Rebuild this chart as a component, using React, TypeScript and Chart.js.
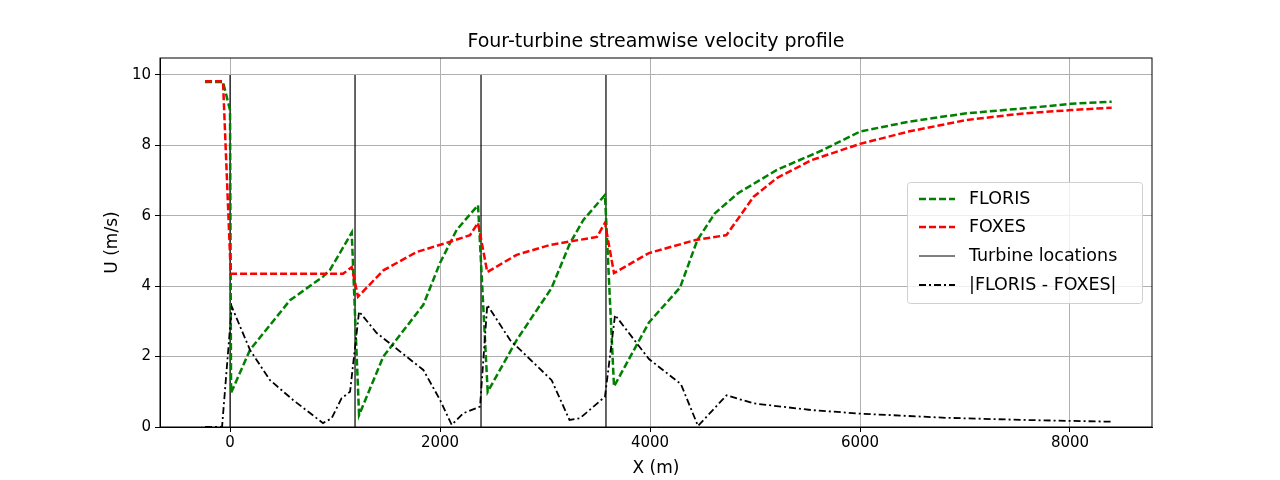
import React, { useEffect, useRef } from 'react';
import Chart from 'chart.js/auto';

const turbineX = [0, 1190, 2390, 3580];

const florisX = [-238, -67, 0, 10, 190, 571, 886, 952, 1159, 1229, 1460, 1841, 2000, 2159, 2362, 2454, 2730, 3063, 3238, 3365, 3571, 3657, 3990, 4286, 4451, 4618, 4838, 5208, 5648, 6000, 6461, 7014, 7568, 8010, 8397];
const florisU = [9.8, 9.8, 9.0, 0.97, 2.19, 3.6, 4.27, 4.46, 5.52, 0.34, 2.0, 3.47, 4.66, 5.6, 6.3, 1.0, 2.47, 3.95, 5.22, 5.88, 6.59, 1.15, 2.97, 3.96, 5.31, 6.07, 6.64, 7.3, 7.87, 8.39, 8.67, 8.91, 9.05, 9.18, 9.24];

const foxesX = [-238, -67, 7, 1076, 1159, 1219, 1460, 1778, 2095, 2286, 2362, 2450, 2730, 3048, 3495, 3571, 3657, 3990, 4433, 4728, 4987, 5208, 5539, 6000, 6461, 7014, 7568, 8010, 8397];
const foxesU = [9.82, 9.82, 4.35, 4.35, 4.54, 3.7, 4.45, 4.97, 5.26, 5.45, 5.8, 4.4, 4.89, 5.17, 5.4, 5.8, 4.37, 4.94, 5.31, 5.45, 6.54, 7.07, 7.58, 8.04, 8.39, 8.72, 8.91, 9.0, 9.07];

const diffX = [-238, -76, 16, 190, 381, 603, 886, 968, 1063, 1143, 1229, 1397, 1841, 2000, 2111, 2222, 2381, 2450, 2667, 3063, 3233, 3333, 3571, 3667, 3990, 4294, 4457, 4729, 4987, 5539, 6000, 6829, 7568, 8397];
const diffU = [0, 0, 3.42, 2.19, 1.33, 0.76, 0.11, 0.25, 0.82, 1.0, 3.28, 2.67, 1.62, 0.77, 0.06, 0.39, 0.58, 3.47, 2.47, 1.33, 0.2, 0.25, 0.86, 3.18, 1.93, 1.22, 0.03, 0.9, 0.67, 0.48, 0.38, 0.26, 0.2, 0.15];

const legendItems = [
  { label: 'FLORIS', color: 'green', dash: [7, 3], width: 2.5 },
  { label: 'FOXES', color: 'red', dash: [7, 3], width: 2.5 },
  { label: 'Turbine locations', color: 'black', dash: [], width: 1 },
  { label: '|FLORIS - FOXES|', color: 'black', dash: [7, 3, 2, 3], width: 1.8 },
];

const FONT = '"DejaVu Sans", sans-serif';

const pts = (xs: number[], ys: number[]) => xs.map((x, i) => ({ x, y: ys[i] }));

const decor = {
  id: 'decor',
  afterDraw(chart: any) {
    const { ctx, chartArea: a } = chart;
    ctx.save();
    ctx.fillStyle = 'black';
    ctx.textAlign = 'center';
    ctx.textBaseline = 'middle';
    ctx.font = `19px ${FONT}`;
    ctx.fillText('Four-turbine streamwise velocity profile', (a.left + a.right) / 2, 42);
    ctx.font = `17px ${FONT}`;
    ctx.fillText('X (m)', (a.left + a.right) / 2, 469);
    ctx.translate(113, (a.top + a.bottom) / 2);
    ctx.rotate(-Math.PI / 2);
    ctx.fillText('U (m/s)', 0, 0);
    ctx.restore();

    // frame
    ctx.save();
    ctx.strokeStyle = 'black';
    ctx.lineWidth = 1;
    ctx.strokeRect(a.left, a.top, a.right - a.left, a.bottom - a.top);
    ctx.restore();

    // legend
    ctx.save();
    const bx = 907, by = 182, bw = 235, bh = 121;
    ctx.fillStyle = 'rgba(255,255,255,0.8)';
    ctx.strokeStyle = '#d0d0d0';
    ctx.lineWidth = 1;
    ctx.beginPath();
    ctx.roundRect(bx + 0.5, by + 0.5, bw, bh, 3);
    ctx.fill();
    ctx.stroke();
    const rows = [199, 227, 256, 285];
    ctx.font = `17.5px ${FONT}`;
    ctx.textAlign = 'left';
    ctx.textBaseline = 'middle';
    legendItems.forEach((it, i) => {
      ctx.strokeStyle = it.color;
      ctx.lineWidth = it.width;
      ctx.setLineDash(it.dash);
      ctx.beginPath();
      ctx.moveTo(919, rows[i]);
      ctx.lineTo(955, rows[i]);
      ctx.stroke();
      ctx.setLineDash([]);
      ctx.fillStyle = 'black';
      ctx.fillText(it.label, 969, rows[i]);
    });
    ctx.restore();
  },
};

const App: React.FC = () => {
  const chartRef = useRef<HTMLCanvasElement>(null);

  useEffect(() => {
    document.body.style.margin = '0';
    if (!chartRef.current) return;
    const ctx = chartRef.current.getContext('2d');
    if (!ctx) return;

    const turbineSets = turbineX.map((x) => ({
      label: 'Turbine locations',
      data: [{ x: x + 0.5, y: 0 }, { x: x + 0.5, y: 10 }],
      borderColor: 'black',
      borderWidth: 1.2,
      pointRadius: 0,
      order: 3,
    }));

    const chart = new Chart(ctx, {
      type: 'line',
      data: {
        datasets: [
          { label: 'FLORIS', data: pts(florisX, florisU), borderColor: 'green', borderWidth: 2.5, borderDash: [7, 3], pointRadius: 0, order: 2 },
          { label: 'FOXES', data: pts(foxesX, foxesU), borderColor: 'red', borderWidth: 2.5, borderDash: [7, 3], pointRadius: 0, order: 1 },
          ...turbineSets,
          { label: '|FLORIS - FOXES|', data: pts(diffX, diffU), borderColor: 'black', borderWidth: 1.8, borderDash: [7, 3, 2, 3], pointRadius: 0, order: 0 },
        ],
      },
      options: {
        animation: false,
        responsive: false,
        layout: { padding: { left: 0, right: 128, top: 58, bottom: 0 } },
        plugins: { legend: { display: false }, title: { display: false }, tooltip: { enabled: false } },
        scales: {
          x: {
            type: 'linear',
            min: -667,
            max: 8781,
            afterBuildTicks: (s: any) => { s.ticks = [0, 2000, 4000, 6000, 8000].map((v) => ({ value: v })); },
            afterFit: (s: any) => { s.height = 53; },
            ticks: { color: 'black', font: { size: 15, family: FONT }, maxRotation: 0, padding: 2, callback: (v: any) => String(v) },
            grid: { color: '#b0b0b0', tickColor: 'black', tickLength: 5 },
            border: { color: 'black' },
          },
          y: {
            min: 0,
            max: 10.48,
            afterBuildTicks: (s: any) => { s.ticks = [0, 2, 4, 6, 8, 10].map((v) => ({ value: v })); },
            afterFit: (s: any) => { s.width = 160; },
            ticks: { color: 'black', font: { size: 15, family: FONT }, padding: 4, callback: (v: any) => String(v) },
            grid: { color: '#b0b0b0', tickColor: 'black', tickLength: 5 },
            border: { color: 'black' },
          },
        },
      },
      plugins: [decor],
    });

    return () => {
      chart.destroy();
    };
  }, []);

  return <canvas ref={chartRef} width="1280" height="480"></canvas>;
};

export default App;
